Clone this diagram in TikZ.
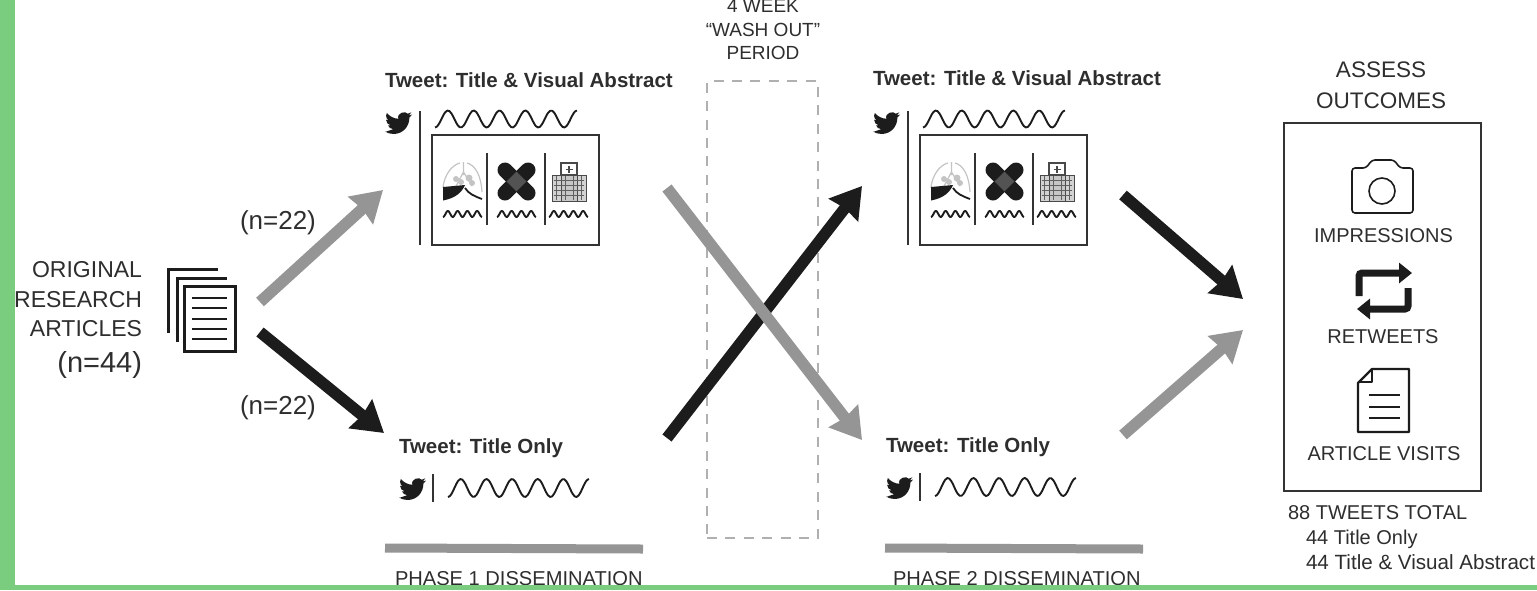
\documentclass[tikz,border=0pt]{standalone}
\usepackage{fontspec}
\setmainfont{Liberation Sans}
\usetikzlibrary{arrows.meta}
\definecolor{stripgreen}{HTML}{7ACC7F}
\definecolor{inkdark}{HTML}{1C1C1C}
\definecolor{txtdark}{HTML}{2E2E2E}
\definecolor{arrowgray}{HTML}{959595}
\definecolor{dashgray}{HTML}{B0B0B0}
\definecolor{lunggray}{HTML}{C4C4C4}
\newcommand{\fs}[1]{\fontsize{#1}{#1}\selectfont}
\newcommand{\wavyline}[6][inkdark]{% colour, x0, x1, ymid, amp, periods
  \draw[line width=1.9pt,color=#1,line join=round]
    plot[smooth,samples=70,domain=0:1,variable=\t] ({#2+(#3-#2)*\t},{#4+#5*cos(360*#6*\t)});}
\tikzset{
  every node/.style={outer sep=0pt},
  lbl/.style={inner sep=0pt,text=txtdark,font=\fs{20}},
  lblw/.style={lbl,anchor=base west},
  lble/.style={lbl,anchor=base east},
  lblc/.style={lbl,anchor=base},
  ttl/.style={inner sep=0pt,anchor=base west,text=txtdark,font=\fs{20.5}\bfseries},
  rule1/.style={line width=2.2pt,color=inkdark!90!white},
  bigarrow/.style={line width=11.5pt,-{Stealth[length=30pt,width=36pt,inset=2pt]}},
  blackarrow/.style={bigarrow,color=inkdark},
  grayarrow/.style={bigarrow,color=arrowgray},
  phasebar/.style={line width=9pt,color=arrowgray},
  bird/.pic={
    \fill[inkdark,scale=1.13] (23.95,4.57) -- (21.13,5.35) -- (23.29,2.62) -- (20.16,3.80)
      .. controls (18.3,1.2) and (10.4,2.5) .. (11.78,8.29)
      .. controls (7.69,8.10) and (4.07,6.13) .. (1.64,3.16)
      -- (0.97,5.64) .. controls (0.97,7.35) and (1.84,8.85) .. (3.16,9.73)
      -- (0.93,9.12) .. controls (0.93,11.5) and (2.6,13.5) .. (4.88,14.0)
      -- (2.66,14.09) .. controls (3.3,16.0) and (5.1,17.4) .. (7.27,17.5)
      -- (1.17,19.61) -- (0,19.54) .. controls (2.2,21.0) and (4.8,21.75) .. (7.56,21.75)
      .. controls (16.61,21.75) and (21.55,14.25) .. (21.55,7.77)
      -- (21.54,7.14) -- (24,4.59) -- cycle;
  }
}
\newcommand{\vapanel}[3]{% dx, dy, prefix
\begin{scope}[shift={(#1,#2)},name prefix=#3-]
  \pic at (385,109.4) {bird};
  \coordinate (bart) at (420,111); \coordinate (barb) at (420,245);
  \draw[rule1] (bart) -- (barb);
  \wavyline{435}{577}{119}{8.5}{5.5}
  \node[draw=inkdark!90!white,line width=2.2pt,minimum width=167pt,minimum height=110pt,inner sep=0pt,anchor=north west] (box) at (432,135) {};
  \coordinate (d1t) at (487,153); \coordinate (d1b) at (487,225);
  \coordinate (d2t) at (545,153); \coordinate (d2b) at (545,225);
  \draw[rule1] (d1t) -- (d1b);
  \draw[rule1] (d2t) -- (d2b);
  % lungs
  \draw[lunggray,line width=1.2pt] (460,163) .. controls (452,165) and (444,175) .. (443,188);
  \draw[lunggray,line width=1.2pt] (467,163) .. controls (475,165) and (481,175) .. (482,192);
  \draw[lunggray,line width=1.2pt] (463.5,162) -- (463.5,175) (463.5,172) -- (456,186) (463.5,172) -- (472,186);
  \fill[lunggray] (456,179) circle (3pt) (461,182) circle (3pt) (469,178) circle (3.5pt) (472,183) circle (3pt);
  \fill[inkdark] (443,187) -- (465,185) .. controls (462,192) and (456,198) .. (443,200.5) -- cycle;
  \draw[inkdark,line width=1.8pt] (465,188) .. controls (469,194) and (474,196) .. (482,199);
  % bandage
  \draw[inkdark,line width=15pt,line cap=round] (505,170) -- (528,193);
  \draw[inkdark,line width=15pt,line cap=round] (528,170) -- (505,193);
  \fill[gray!65!black,rotate around={45:(516.5,181.5)}] (509.5,174.5) rectangle (523.5,188.5);
  % hospital
  \draw[inkdark!80!white,fill=gray!35,line width=1pt] (552,175) rectangle (586,201);
  \draw[inkdark!80!white,fill=white,line width=1.2pt] (561,163) rectangle (577,175);
  \draw[inkdark!80!white,fill=gray!45,line width=1pt] (561,175) rectangle (577,201);
  \draw[inkdark!80!white,line width=1.2pt] (569,166) -- (569,173) (565.5,169.5) -- (572.5,169.5);
  \draw[gray!75!black,line width=.9pt] (554,180) -- (584,180) (554,185) -- (584,185) (554,190) -- (584,190) (554,195) -- (584,195);
  \draw[gray!75!black,line width=.9pt] (556.5,176) -- (556.5,200) (565,176) -- (565,200) (573,176) -- (573,200) (581,176) -- (581,200);
  \wavyline{443}{482}{214}{3}{4}
  \wavyline{497}{536}{214}{3}{4}
  \wavyline{549}{588}{214}{3}{4}
\end{scope}}
\newcommand{\tpanel}[3]{% dx, dy, prefix
\begin{scope}[shift={(#1,#2)},name prefix=#3-]
  \pic at (399,475.4) {bird};
  \coordinate (bart) at (433,474); \coordinate (barb) at (433,502);
  \draw[rule1] (bart) -- (barb);
  \wavyline{448}{589}{488}{9}{5.5}
\end{scope}}
\begin{document}
\begin{tikzpicture}[x=1pt,y=-1pt]
\path[use as bounding box,fill=white] (0,0) rectangle (1537,590);

% left labels
\node[lble,font=\fs{23}] (orig) at (142,277) {ORIGINAL};
\node[lble,font=\fs{23}] (rsch) at (142,307) {RESEARCH};
\node[lble,font=\fs{23}] (artc) at (142,336) {ARTICLES};
\node[lble,font=\fs{29}] (n44) at (142,372) {(n=44)};
\node[lblw,font=\fs{26}] (n22a) at (240,229) {(n=22)};
\node[lblw,font=\fs{26}] (n22b) at (240,414) {(n=22)};

% document stack
\coordinate (s1a) at (168,333); \coordinate (s1b) at (168,269); \coordinate (s1c) at (218,269);
\coordinate (s2a) at (177,342); \coordinate (s2b) at (177,278); \coordinate (s2c) at (227,278);
\draw[color=inkdark,line width=3pt] (s1a) -- (s1b) -- (s1c);
\draw[color=inkdark,line width=3pt] (s2a) -- (s2b) -- (s2c);
\node[draw=inkdark,fill=white,line width=3pt,minimum width=51pt,minimum height=65pt,inner sep=0pt,anchor=north west] (front) at (184,286) {};
\foreach \yy in {298,308,319,329,339}{\draw[color=inkdark,line width=2.8pt] (192,\yy) -- (227,\yy);}

% phase panels
\node[ttl] (t1) at (385,87) {Tweet: Title \& Visual Abstract};
\node[ttl] (t2) at (873,85) {Tweet: Title \& Visual Abstract};
\node[ttl] (t3) at (399,453) {Tweet: Title Only};
\node[ttl] (t4) at (886,452) {Tweet: Title Only};
\vapanel{0}{0}{pa}
\vapanel{488}{0}{pb}
\tpanel{0}{0}{pc}
\tpanel{487}{-1}{pd}

% wash-out
\node[lblc,font=\fs{19}] (w1) at (763,12) {4 WEEK};
\node[lblc,font=\fs{19}] (w2) at (763,36) {“WASH OUT”};
\node[lblc,font=\fs{19}] (w3) at (763,59) {PERIOD};
\node[draw=dashgray,line width=2.4pt,dash pattern=on 10pt off 8.4pt,minimum width=111pt,minimum height=457pt,inner sep=0pt,anchor=north west] (wash) at (707,81) {};

% arrows
\coordinate (a1s) at (260,302); \coordinate (a1e) at (383,190);
\coordinate (a2s) at (260,332); \coordinate (a2e) at (384,433);
\coordinate (a3s) at (667,188); \coordinate (a3e) at (862,440);
\coordinate (a4s) at (667,438); \coordinate (a4e) at (862,186);
\coordinate (a5s) at (1123,195); \coordinate (a5e) at (1243,299);
\coordinate (a6s) at (1123,435); \coordinate (a6e) at (1243,330);
\draw[grayarrow] (a1s) -- (a1e);
\draw[blackarrow] (a2s) -- (a2e);
\draw[blackarrow] (a4s) -- (a4e);
\draw[grayarrow] (a3s) -- (a3e);
\draw[blackarrow] (a5s) -- (a5e);
\draw[grayarrow] (a6s) -- (a6e);

% phase bars
\coordinate (b1s) at (385,548); \coordinate (b1e) at (643,549);
\coordinate (b2s) at (885,548); \coordinate (b2e) at (1143,549);
\draw[phasebar] (b1s) -- (b1e);
\draw[phasebar] (b2s) -- (b2e);
\node[lblw,font=\fs{20.1}] (ph1) at (395,585) {PHASE 1 DISSEMINATION};
\node[lblw,font=\fs{20.1}] (ph2) at (893,585) {PHASE 2 DISSEMINATION};

% outcomes
\node[lblc,font=\fs{22.5}] (as1) at (1381,77) {ASSESS};
\node[lblc,font=\fs{22.5}] (as2) at (1381,108) {OUTCOMES};
\node[draw=inkdark!90!white,line width=2.2pt,minimum width=197pt,minimum height=368pt,inner sep=0pt,anchor=north west] (obox) at (1284,123) {};
% camera
\draw[inkdark,line width=1.6pt,line join=round,rounded corners=3pt]
  (1352,213) -- (1352,168) -- (1366,168) -- (1372,160) -- (1394,160) -- (1400,168) -- (1413,168) -- (1413,213) -- cycle;
\draw[inkdark,line width=1.6pt] (1382,191) circle (13pt);
\node[lblc] (imp) at (1383.5,242) {IMPRESSIONS};
% retweet
\coordinate (r1a) at (1359,296); \coordinate (r1b) at (1359,273); \coordinate (r1c) at (1412,273);
\coordinate (r2a) at (1408,288); \coordinate (r2b) at (1408,309); \coordinate (r2c) at (1357,309);
\draw[inkdark,line width=7pt,rounded corners=3pt,-{Triangle[length=13pt,width=20pt]}] (r1a) -- (r1b) -- (r1c);
\draw[inkdark,line width=7pt,rounded corners=3pt,-{Triangle[length=13pt,width=20pt]}] (r2a) -- (r2b) -- (r2c);
\node[lblc] (ret) at (1383,343) {RETWEETS};
% article
\draw[inkdark,line width=2.4pt,line join=round] (1372,369) -- (1409,369) -- (1409,432) -- (1358,432) -- (1358,383) -- cycle;
\draw[inkdark,line width=2pt,line join=round] (1372,369) -- (1372,382) -- (1358,382);
\foreach \yy in {395,407,418}{\draw[inkdark,line width=2.2pt] (1369,\yy) -- (1400,\yy);}
\node[lblc] (vis) at (1384,460) {ARTICLE VISITS};
% totals
\node[lblw] (tot) at (1288,519) {88 TWEETS TOTAL};
\node[lblw] (tot1) at (1306,544) {44 Title Only};
\node[lblw,font=\fs{20.6}] (tot2) at (1306,569) {44 Title \& Visual Abstract};

% green frame
\fill[stripgreen] (0,0) rectangle (15,590);
\fill[stripgreen] (0,585) rectangle (1537,590);
\end{tikzpicture}
\end{document}
